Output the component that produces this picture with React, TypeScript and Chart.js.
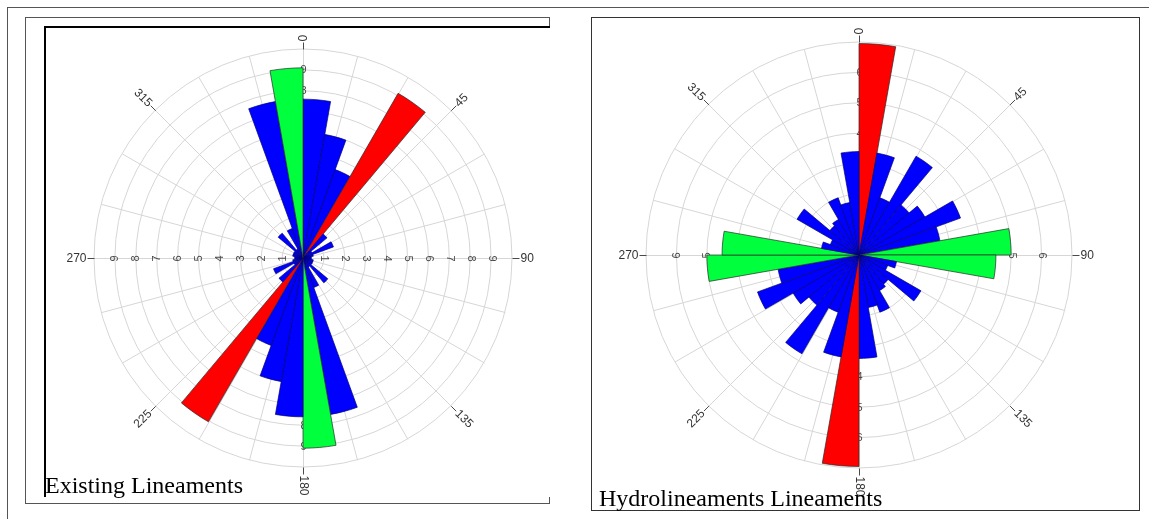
import React, { useEffect, useRef } from "react";
import { Chart, registerables } from "chart.js";

Chart.register(...registerables);

// ---- data ----
const BINS = ["0", "10", "20", "30", "40", "50", "60", "70", "80", "90", "100", "110", "120", "130", "140", "150", "160", "170", "180", "190", "200", "210", "220", "230", "240", "250", "260", "270", "280", "290", "300", "310", "320", "330", "340", "350"];

const LEFT_VALUES = [7.6, 6.0, 4.5, 9.1, 1.5, 0.5, 1.55, 0.5, 0.4, 0.4, 0.5, 0.5, 0.5, 1.55, 0.5, 1.5, 7.6, 9.1, 7.6, 6.0, 4.45, 9.05, 1.5, 0.5, 1.5, 0.5, 0.4, 0.4, 0.5, 0.5, 0.5, 1.55, 0.5, 1.5, 7.6, 9.1];
const LEFT_RED_BINS = ["30", "210"];
const LEFT_GREEN_BINS = ["170", "350"];
const LEFT_MAX = 10;
const LEFT_TICKS = [1, 2, 3, 4, 5, 6, 7, 8, 9];

const RIGHT_VALUES = [6.95, 3.4, 2.0, 3.75, 2.15, 2.5, 3.55, 2.7, 5.0, 4.5, 1.25, 1.0, 2.35, 1.25, 1.35, 2.0, 1.75, 3.4, 6.95, 3.4, 2.0, 3.75, 2.15, 2.5, 3.55, 2.7, 5.0, 4.5, 1.25, 1.0, 2.35, 1.25, 1.35, 2.0, 1.75, 3.4];
const RIGHT_RED_BINS = ["0", "180"];
const RIGHT_GREEN_BINS = ["80", "90", "260", "270"];
const RIGHT_MAX = 7;
const RIGHT_TICKS = [1, 2, 3, 4, 5, 6];

const ANGLE_LABELS = ["0", "45", "90", "135", "180", "225", "270", "315"];
const AXIS_ANGLES = [0, 90, 180, 270];
const SPOKE_STEP = 15;

// ---- styles ----
const BLUE = "#0000ff";
const GREEN = "#00ff3c";
const RED = "#ff0000";
const GRID_COLOR = "#d6d6d6";
const LABEL_COLOR = "#333333";
const TICK_COLOR = "#4a4a4a";
const SANS = '"Liberation Sans", Arial, sans-serif';
const SERIF = '"Liberation Serif", "Times New Roman", serif';

function rad(compassDeg: number) {
  return ((compassDeg - 90) * Math.PI) / 180;
}

function makeDecor(ticks: number[]) {
  return {
    id: "roseDecor",
    beforeDatasetsDraw(chart: any) {
      const s = chart.scales.r;
      const ctx = chart.ctx as CanvasRenderingContext2D;
      const cx = s.xCenter;
      const cy = s.yCenter;
      const R = s.drawingArea;
      ctx.save();
      ctx.strokeStyle = GRID_COLOR;
      ctx.lineWidth = 1;
      for (let a = 0; a < 360; a += SPOKE_STEP) {
        const t = rad(a);
        ctx.beginPath();
        ctx.moveTo(cx + 0.5, cy + 0.5);
        ctx.lineTo(cx + 0.5 + R * Math.cos(t), cy + 0.5 + R * Math.sin(t));
        ctx.stroke();
      }
      ctx.fillStyle = TICK_COLOR;
      ctx.font = `11px ${SANS}`;
      ctx.textAlign = "center";
      ctx.textBaseline = "middle";
      for (const v of ticks) {
        const d = s.getDistanceFromCenterForValue(v);
        for (const a of AXIS_ANGLES) {
          const t = rad(a);
          ctx.save();
          ctx.translate(cx + 0.5 + d * Math.cos(t), cy + 0.5 + d * Math.sin(t));
          if (a === 90) ctx.rotate(Math.PI / 2);
          else if (a === 270) ctx.rotate(-Math.PI / 2);
          ctx.fillText(String(v), 0, 0);
          ctx.restore();
        }
      }
      ctx.restore();
    },
    afterDraw(chart: any) {
      const s = chart.scales.r;
      const ctx = chart.ctx as CanvasRenderingContext2D;
      const cx = s.xCenter + 0.5;
      const cy = s.yCenter + 0.5;
      const R = s.drawingArea;
      ctx.save();
      ctx.font = `12px ${SANS}`;
      ctx.textBaseline = "middle";
      for (const lab of ANGLE_LABELS) {
        const a = Number(lab);
        const t = rad(a);
        const c = Math.cos(t);
        const sn = Math.sin(t);
        ctx.strokeStyle = TICK_COLOR;
        ctx.lineWidth = 1;
        ctx.beginPath();
        ctx.moveTo(cx + R * c, cy + R * sn);
        ctx.lineTo(cx + (R + 7) * c, cy + (R + 7) * sn);
        ctx.stroke();
        ctx.save();
        ctx.translate(cx + (R + 8) * c, cy + (R + 8) * sn);
        ctx.fillStyle = LABEL_COLOR;
        if (a <= 180) {
          ctx.rotate(t);
          ctx.textAlign = "left";
        } else {
          ctx.rotate(t + Math.PI);
          ctx.textAlign = "right";
        }
        ctx.fillText(lab, 0, 0);
        ctx.restore();
      }
      ctx.restore();
    },
  };
}

function barColors(red: string[], green: string[]) {
  return BINS.map((b) => (red.includes(b) ? RED : green.includes(b) ? GREEN : BLUE));
}
function barBorders(red: string[], green: string[]) {
  return BINS.map((b) => (red.includes(b) || green.includes(b) ? "#2a2a2a" : "#00007a"));
}

function Rose(props: {
  values: number[];
  red: string[];
  green: string[];
  max: number;
  ticks: number[];
  size: number;
  left: number;
  top: number;
}) {
  const ref = useRef<HTMLCanvasElement | null>(null);
  useEffect(() => {
    if (!ref.current) return;
    const chart = new Chart(ref.current, {
      type: "polarArea",
      data: {
        labels: BINS,
        datasets: [
          {
            data: props.values,
            backgroundColor: barColors(props.red, props.green),
            borderColor: barBorders(props.red, props.green),
            borderWidth: 0.7,
          },
        ],
      },
      options: {
        responsive: false,
        animation: false,
        layout: { padding: 40 },
        plugins: { legend: { display: false }, tooltip: { enabled: false } },
        scales: {
          r: {
            min: 0,
            max: props.max,
            startAngle: 0,
            ticks: { display: false, stepSize: 1 },
            grid: { color: GRID_COLOR, lineWidth: 1, circular: true },
            angleLines: { display: false },
            pointLabels: { display: false },
          },
        },
      } as any,
      plugins: [makeDecor(props.ticks)],
    });
    return () => chart.destroy();
  }, []);
  return (
    <canvas
      ref={ref}
      width={props.size}
      height={props.size}
      style={{ position: "absolute", left: props.left, top: props.top }}
    />
  );
}

export default function App() {
  return (
    <div
      style={{
        position: "fixed",
        left: 0,
        top: 0,
        width: 1149,
        height: 519,
        overflow: "hidden",
        background: "#fff",
      }}
    >
      {/* outer frame */}
      <div
        style={{
          position: "absolute",
          left: 7,
          top: 7,
          width: 1160,
          height: 530,
          borderTop: "1px solid #555",
          borderLeft: "1px solid #555",
          boxSizing: "border-box",
        }}
      />
      {/* left panel frame */}
      <div
        style={{
          position: "absolute",
          left: 25,
          top: 17,
          width: 525,
          height: 487,
          border: "1px solid #555",
          boxSizing: "border-box",
        }}
      />
      {/* left image box */}
      <div
        style={{
          position: "absolute",
          left: 44,
          top: 26,
          width: 506,
          height: 471,
          borderTop: "2px solid #000",
          borderLeft: "2px solid #000",
          background: "#fff",
          boxSizing: "border-box",
        }}
      />
      {/* right panel frame */}
      <div
        style={{
          position: "absolute",
          left: 591,
          top: 17,
          width: 549,
          height: 494,
          border: "1px solid #333",
          boxSizing: "border-box",
          background: "#fff",
        }}
      />
      <Rose values={LEFT_VALUES} red={LEFT_RED_BINS} green={LEFT_GREEN_BINS} max={LEFT_MAX} ticks={LEFT_TICKS} size={498} left={54} top={9} />
      <Rose values={RIGHT_VALUES} red={RIGHT_RED_BINS} green={RIGHT_GREEN_BINS} max={RIGHT_MAX} ticks={RIGHT_TICKS} size={506} left={606} top={2} />
      <div
        style={{
          position: "absolute",
          left: 45,
          top: 473,
          font: `24px ${SERIF}`,
          lineHeight: "24px",
          color: "#000",
          whiteSpace: "nowrap",
        }}
      >
        Existing Lineaments
      </div>
      <div
        style={{
          position: "absolute",
          left: 599,
          top: 486,
          font: `24px ${SERIF}`,
          lineHeight: "24px",
          color: "#000",
          whiteSpace: "nowrap",
        }}
      >
        Hydrolineaments Lineaments
      </div>
    </div>
  );
}
